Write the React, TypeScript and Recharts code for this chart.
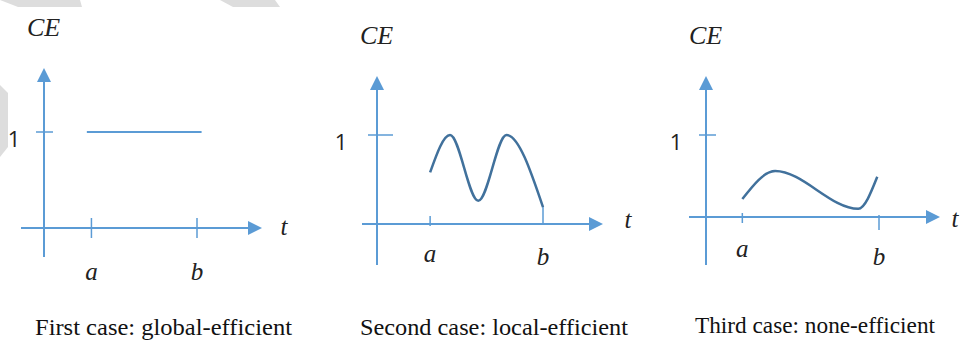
import { LineChart, Line, XAxis, YAxis, ReferenceLine } from "recharts";

const captions = [
  "First case: global-efficient",
  "Second case: local-efficient",
  "Third case: none-efficient",
];
const tickNames = ["a", "b"];
const yTickName = "1";

// t measured from the CE axis (b = 1), CE in units of the "1" tick
const tickA = [0.31, 0.32, 0.21];
const tickB = [1, 1, 1];

const globalT = [0.28, 1.03];
const globalCE = [1, 1];

const localT = [0.32, 0.44, 0.61, 0.78, 1];
const localCE = [0.58, 1, 0.26, 1, 0.19];

const noneT = [0.21, 0.4, 0.88, 0.99];
const noneCE = [0.22, 0.56, 0.1, 0.49];

const AXIS = "#5B9BD5";
const CURVE = "#41719C";
const MATH_FONT = "'Liberation Serif', 'Times New Roman', serif";

// pixel layout of each panel
const panels = [
  {
    left: 0, width: 320, ox: 44, oy: 228, ux: 153, uy: 96,
    yAxis: [257, 68], xAxis: [21, 262], one: [-8, 9, -30],
    tLabel: [22, 7], tickA: [10, 10, 52], tickB: [10, 10, 52],
    caption: [35, 292, 335], stroke: AXIS, width2: 2,
  },
  {
    left: 320, width: 330, ox: 57, oy: 224, ux: 166, uy: 89,
    yAxis: [265, 76], xAxis: [42, 283], one: [-9, 16, -36],
    tLabel: [25, 4], tickA: [8, 2, 38], tickB: [17, 0, 41],
    caption: [40, 308, 335], stroke: CURVE, width2: 2.5,
  },
  {
    left: 650, width: 311, ox: 56, oy: 217, ux: 173, uy: 82,
    yAxis: [265, 76], xAxis: [39, 290], one: [-7, 10, -30],
    tLabel: [15, 10], tickA: [4, 6, 40], tickB: [2, 13, 48],
    caption: [45, 285, 333], stroke: CURVE, width2: 2.5,
  },
];

const series = [
  globalT.map((t, i) => ({ t, ce: globalCE[i] })),
  localT.map((t, i) => ({ t, ce: localCE[i] })),
  noneT.map((t, i) => ({ t, ce: noneCE[i] })),
];

const arrowShape = (extra?: (x: number, y: number) => any) => (props: any) => {
  const { x1, y1, x2, y2 } = props;
  const dx = x2 - x1;
  const dy = y2 - y1;
  const len = Math.hypot(dx, dy) || 1;
  const ux = dx / len;
  const uy = dy / len;
  const bx = x2 - ux * 14;
  const by = y2 - uy * 14;
  return (
    <g>
      <line x1={x1} y1={y1} x2={bx} y2={by} stroke={AXIS} strokeWidth={2} />
      <polygon
        points={`${x2},${y2} ${bx - uy * 7},${by + ux * 7} ${bx + uy * 7},${by - ux * 7}`}
        fill={AXIS}
      />
      {extra ? extra(x2, y2) : null}
    </g>
  );
};

const tickShape = (label: string, dy: number, anchor: "x" | "y", dx = 0) => (props: any) => {
  const { x1, y1, x2, y2 } = props;
  return (
    <g>
      <line x1={x1} y1={y1} x2={x2} y2={y2} stroke={AXIS} strokeWidth={1.5} />
      {anchor === "x" ? (
        <text x={x1} y={dy} textAnchor="middle" fontFamily={MATH_FONT} fontStyle="italic" fontSize={25} fill="#222">
          {label}
        </text>
      ) : (
        <text x={x1 + dx} y={y1 + 15} textAnchor="middle" fontFamily="'Open Sans', sans-serif" fontSize={22} fill="#222">
          {label}
        </text>
      )}
    </g>
  );
};

const Panel = ({ idx }: { idx: number }) => {
  const p = panels[idx];
  const H = 340;
  const tx = (px: number) => (px - p.ox) / p.ux;
  const ty = (py: number) => (p.oy - py) / p.uy;
  const xDomain = [tx(0), tx(p.width)];
  const yDomain = [ty(H), ty(0)];
  const tVals = [tickA[idx], tickB[idx]];
  const tickCfg = [p.tickA, p.tickB];
  return (
    <div style={{ position: "absolute", left: p.left, top: 0, width: p.width, height: H }}>
      <LineChart width={p.width} height={H} data={series[idx]} margin={{ top: 0, right: 0, bottom: 0, left: 0 }}>
        <XAxis type="number" dataKey="t" domain={xDomain} allowDataOverflow hide />
        <YAxis type="number" dataKey="ce" domain={yDomain} allowDataOverflow hide />
        <ReferenceLine
          ifOverflow="visible"
          segment={[{ x: 0, y: ty(p.yAxis[0]) }, { x: 0, y: ty(p.yAxis[1]) }]}
          shape={arrowShape((x, y) => (
            <text x={x - 17} y={y - 32} fontFamily={MATH_FONT} fontStyle="italic" fontSize={26} fill="#222">
              CE
            </text>
          ))}
        />
        <ReferenceLine
          ifOverflow="visible"
          segment={[{ x: tx(p.xAxis[0]), y: 0 }, { x: tx(p.xAxis[1]), y: 0 }]}
          shape={arrowShape((x, y) => (
            <text x={x + p.tLabel[0]} y={y + p.tLabel[1]} textAnchor="middle" fontFamily={MATH_FONT} fontStyle="italic" fontSize={25} fill="#222">
              t
            </text>
          ))}
        />
        <ReferenceLine
          ifOverflow="visible"
          segment={[{ x: tx(p.ox + p.one[0]), y: 1 }, { x: tx(p.ox + p.one[1]), y: 1 }]}
          shape={tickShape(yTickName, 0, "y", p.one[2] - p.one[0])}
        />
        {tVals.map((v, i) => (
          <ReferenceLine
            key={tickNames[i]}
            ifOverflow="visible"
            segment={[{ x: v, y: tickCfg[i][0] / p.uy }, { x: v, y: -tickCfg[i][1] / p.uy }]}
            shape={tickShape(tickNames[i], p.oy + tickCfg[i][2], "x")}
          />
        ))}
        <Line
          type="monotone"
          dataKey="ce"
          stroke={p.stroke}
          strokeWidth={p.width2}
          dot={false}
          activeDot={false}
          isAnimationActive={false}
        />
      </LineChart>
      <svg width={p.width} height={H} style={{ position: "absolute", left: 0, top: 0, pointerEvents: "none" }}>
        <text
          x={p.caption[0]}
          y={p.caption[2]}
          textLength={p.caption[1] - p.caption[0]}
          lengthAdjust="spacingAndGlyphs"
          fontFamily="'Liberation Serif', 'Times New Roman', serif"
          fontSize={24}
          fill="#111"
        >
          {captions[idx]}
        </text>
      </svg>
    </div>
  );
};

export default function App() {
  return (
    <div style={{ position: "absolute", left: 0, top: 0, width: 961, height: 340, background: "#fff" }}>
      <svg width={961} height={340} style={{ position: "absolute", left: 0, top: 0 }}>
        <polygon points="0,0 80,0 82,7 18,7" fill="#DDDDDD" />
        <polygon points="220,0 275,0 280,7 233,7" fill="#DDDDDD" />
        <polygon points="0,85 8,93 8,147 0,157" fill="#DDDDDD" />
      </svg>
      {panels.map((_, i) => (
        <Panel key={i} idx={i} />
      ))}
    </div>
  );
}
